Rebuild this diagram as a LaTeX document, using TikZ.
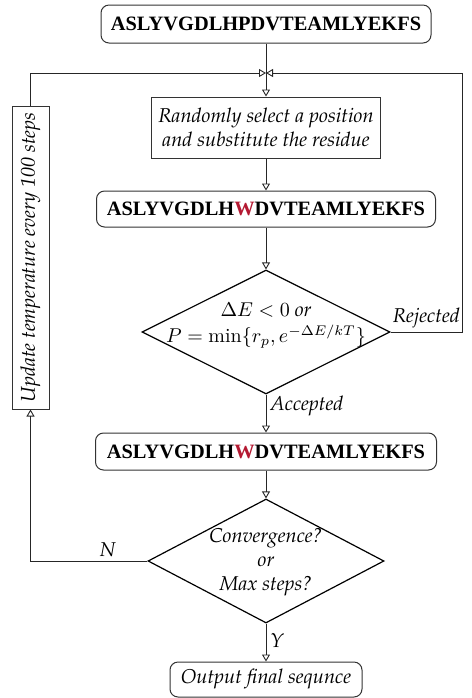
\documentclass[tikz,border=0pt]{standalone}
\usepackage{fontspec}
\newfontfamily\seqfont{Liberation Serif}
\usepackage[T1]{fontenc}
\renewcommand{\rmdefault}{ppl}
\usetikzlibrary{arrows.meta,shapes.geometric}
\definecolor{wred}{RGB}{180,25,50}
\begin{document}
\begin{tikzpicture}[x=0.5pt,y=-0.5pt,
  seqbox/.style={draw=black!80, line width=0.5pt, rounded corners=4pt, inner sep=0pt, font=\seqfont\bfseries\fontsize{10.2}{12}\selectfont},
  procbox/.style={draw=black!80, line width=0.5pt, inner sep=0pt, align=center, font=\itshape},
  endbox/.style={draw=black!80, line width=0.5pt, rounded corners=4pt, inner sep=0pt, font=\itshape},
  decbox/.style={draw, diamond, line width=0.6pt, inner sep=0pt},
  arr/.style={draw=black!85, line width=0.45pt, -{Triangle[open,length=3.5pt,width=4pt]}},
  lbl/.style={font=\itshape, inner sep=2pt}]
\useasboundingbox (0,0) rectangle (472,698);

\node[seqbox, minimum width=165pt, minimum height=19pt] (top) at (266,24) {ASLYVGDLHPDVTEAMLYEKFS};
\coordinate (J) at (266,73);
\node[procbox, minimum width=114.5pt, minimum height=30.5pt] (proc) at (266,127.5) {Randomly select a position\\and substitute the residue};
\node[seqbox, minimum width=169.5pt, minimum height=18pt] (seq2) at (266,209) {ASLYVGDLH\textcolor{wred}{W}DVTEAMLYEKFS};
\node[decbox, minimum width=124pt, minimum height=62pt] (d1) at (266,332) {};
\node[align=center, inner sep=0pt] (d1t) at (266,326) {$\Delta E<0$ \textit{or}\\[1pt]$P=\min\{r_p,e^{-\Delta E/kT}\}$};
\node[seqbox, minimum width=170.5pt, minimum height=18.5pt] (seq3) at (266,451.5) {ASLYVGDLH\textcolor{wred}{W}DVTEAMLYEKFS};
\node[decbox, minimum width=118pt, minimum height=62pt] (d2) at (266,561) {};
\node[align=center, font=\itshape, inner sep=0pt] (d2t) at (266,562) {Convergence?\\or\\Max steps?};
\node[procbox, rotate=90, minimum width=151.5pt, minimum height=18.5pt] (vert) at (30.5,257.5) {Update temperature every 100 steps};
\node[endbox, minimum width=96pt, minimum height=17.5pt] (final) at (266,679.5) {Output final sequnce};
\coordinate (R) at (462,332);

\draw[arr] (top) -- (proc);
\draw[arr] (vert.east) |- (J);
\draw[arr] (d1.east) -- node[lbl, above] {Rejected} (R) |- (J);
\draw[arr] (proc) -- (seq2);
\draw[arr] (seq2) -- (d1);
\draw[arr] (d1) -- node[lbl, right, pos=0.3] {Accepted} (seq3);
\draw[arr] (seq3) -- (d2);
\draw[arr] (d2.west) -| node[lbl, above, pos=0.17] {N} (vert.west);
\draw[arr] (d2) -- node[lbl, right, pos=0.45] {Y} (final);
\end{tikzpicture}
\end{document}
